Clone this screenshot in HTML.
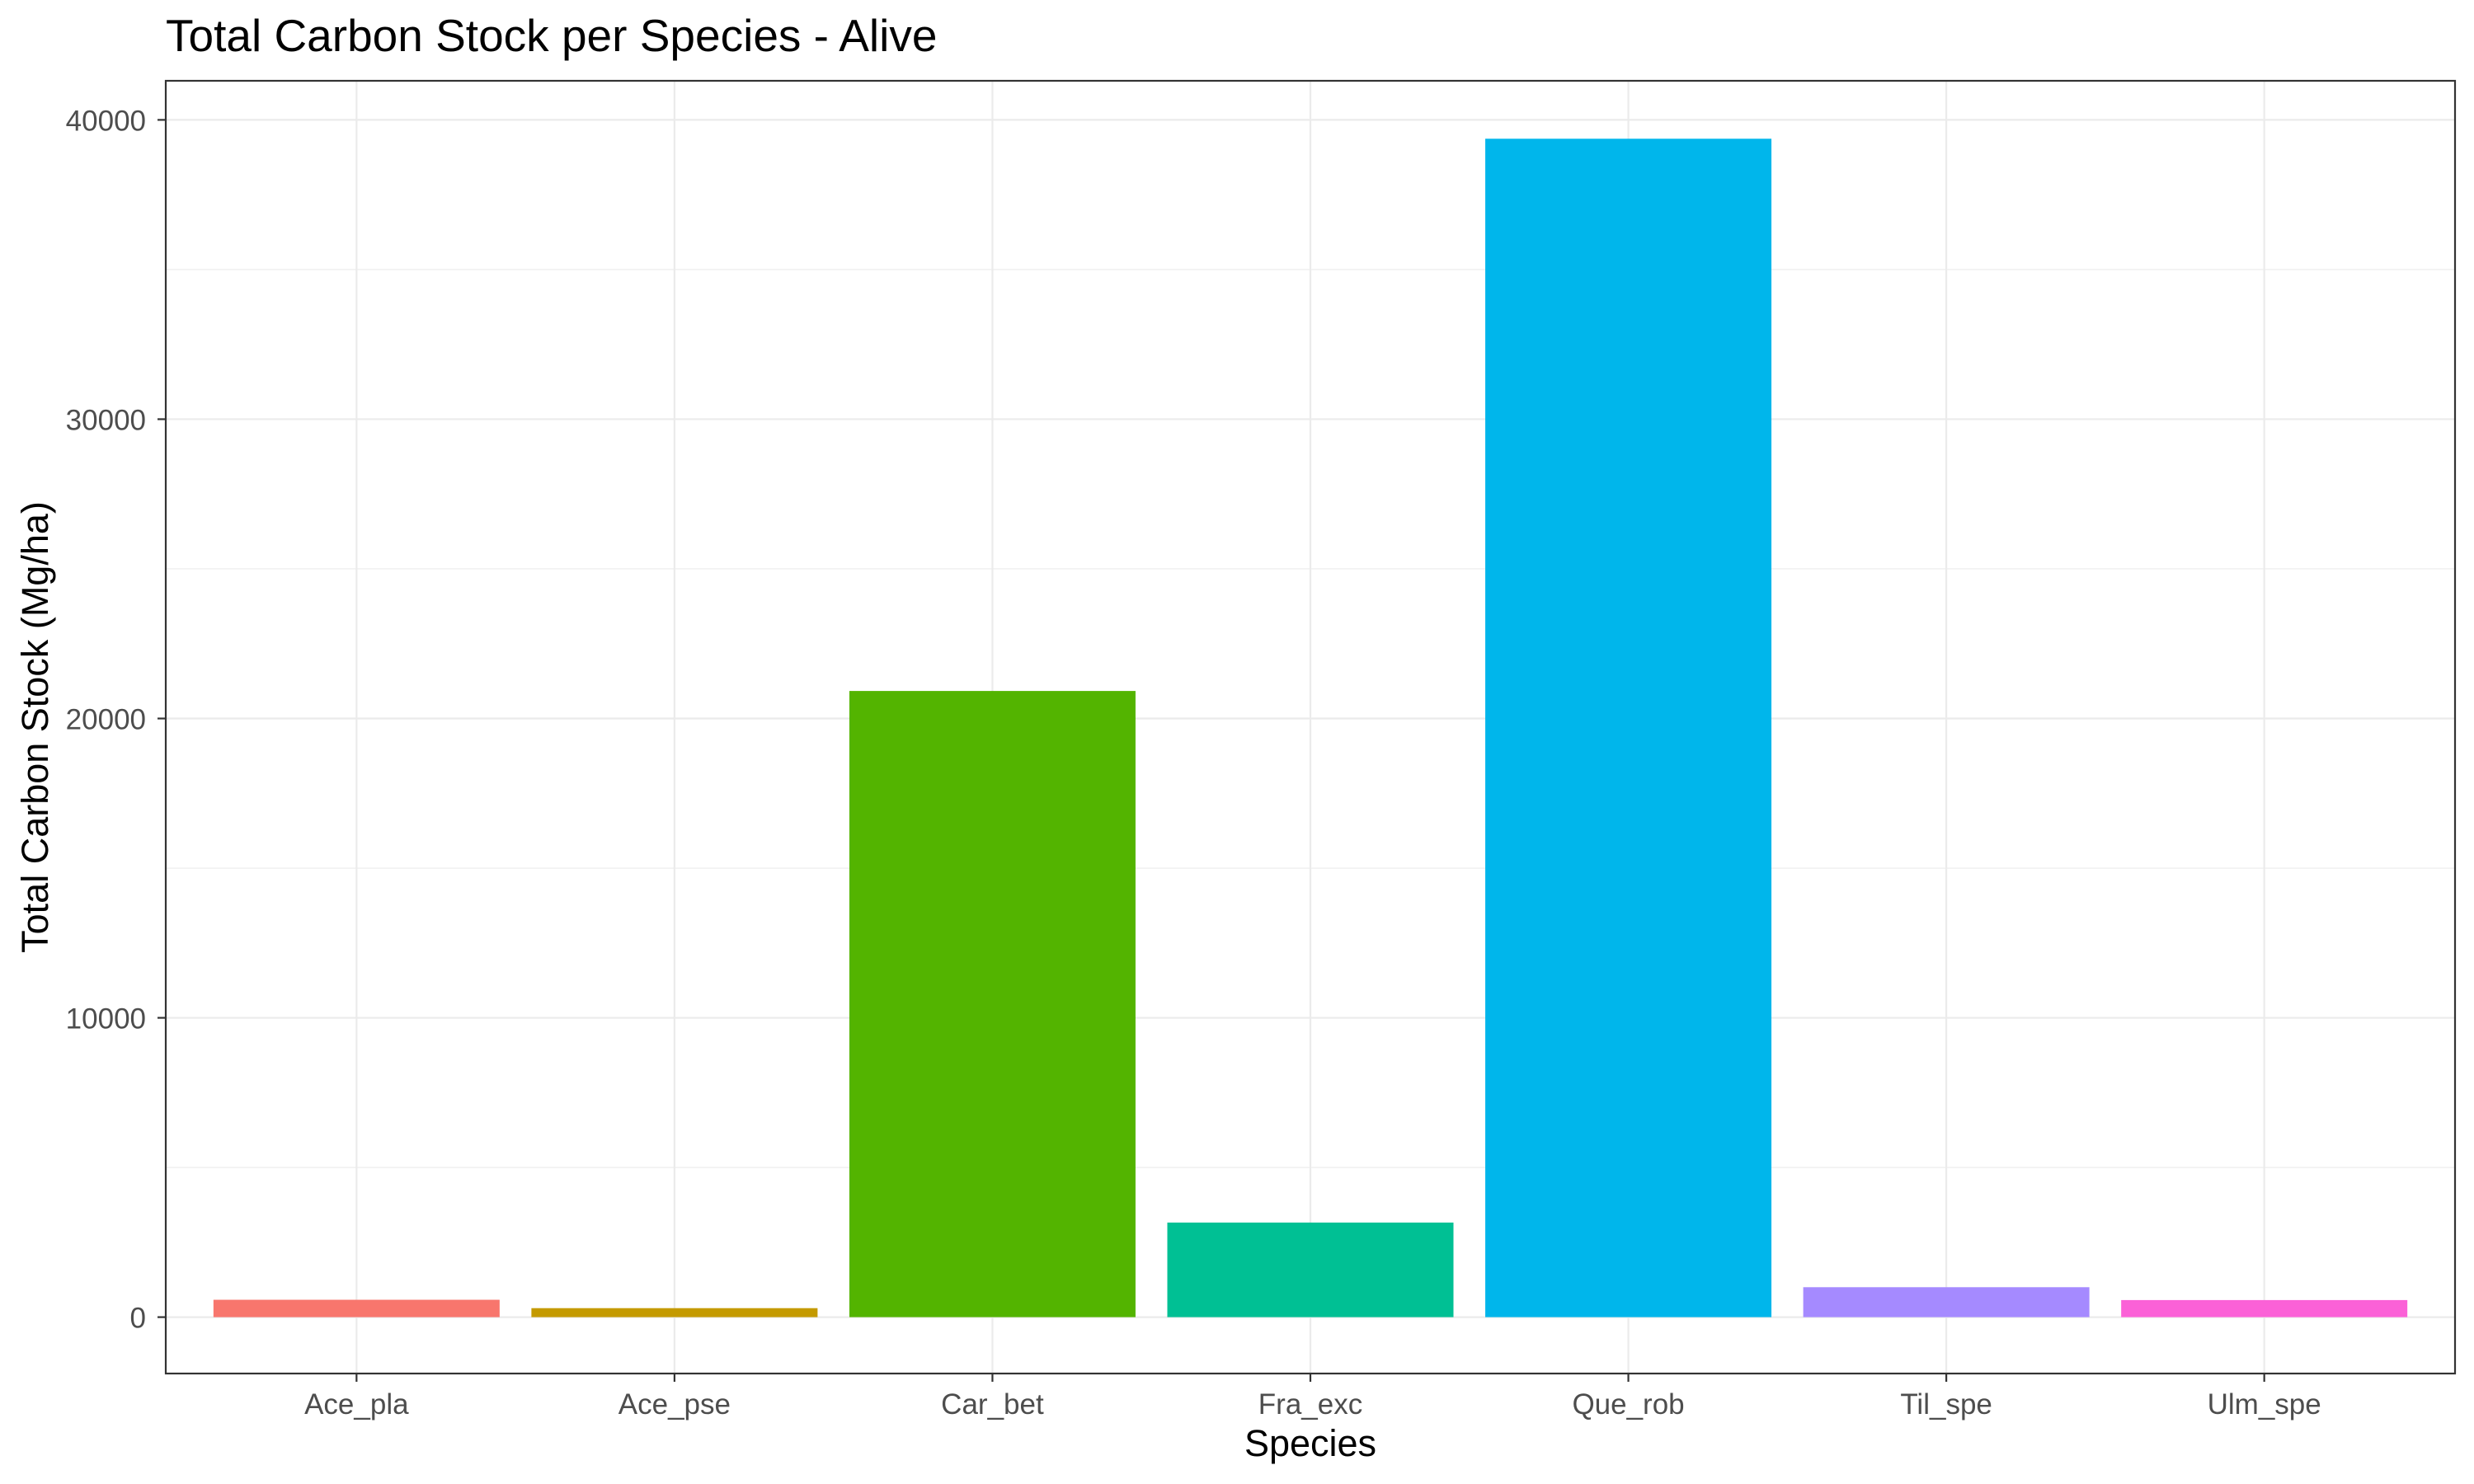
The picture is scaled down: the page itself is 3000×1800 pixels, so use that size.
<!DOCTYPE html>
<html><head><meta charset="utf-8"><style>
html,body{margin:0;padding:0;background:#fff;}
svg{display:block;font-family:"Liberation Sans",Arial,sans-serif;}
</style></head><body>
<svg id="chart" width="3000" height="1800" viewBox="0 0 3000 1800">
<text x="201" y="62" font-size="55" fill="#000">Total Carbon Stock per Species - Alive</text>
<g id="grid"></g>
<g id="bars"></g>
<rect x="201" y="98" width="2776" height="1568" fill="none" stroke="#333" stroke-width="2.2"/>
<g id="axes"></g>
<text x="1589" y="1766" font-size="45" text-anchor="middle" fill="#000">Species</text>
<text transform="translate(58,882) rotate(-90)" font-size="45" text-anchor="middle" fill="#000">Total Carbon Stock (Mg/ha)</text>
</svg>
<script>
const categories = ["Ace_pla","Ace_pse","Car_bet","Fra_exc","Que_rob","Til_spe","Ulm_spe"];
const values = [580, 300, 20920, 3160, 39370, 1000, 570];
const colors = ["#F8766D","#C49A00","#53B400","#00C094","#00B6EB","#A58AFF","#FB61D7"];
const yTicks = [0, 10000, 20000, 30000, 40000];
const yMinor = [5000, 15000, 25000, 35000];
const NS = "http://www.w3.org/2000/svg";
const L = 201, R = 2977, T = 98, B = 1666;
const y0px = 1597.6, y40px = 145.4;
function y(v){ return y0px + (y40px - y0px) * v / 40000; }
const unit = (R - L) / (categories.length - 1 + 1.2);
function x(i){ return L + unit * (0.6 + i); }
function mk(tag, attrs, parent){ const e = document.createElementNS(NS, tag); for (const k in attrs) e.setAttribute(k, attrs[k]); parent.appendChild(e); return e; }
const grid = document.getElementById("grid"), bars = document.getElementById("bars"), axes = document.getElementById("axes");
mk("rect", {x:L, y:T, width:R-L, height:B-T, fill:"#fff"}, grid);
yMinor.forEach(v => {
  const l = mk("line", {x1:L, x2:R, y1:y(v), y2:y(v), stroke:"#EBEBEB", "stroke-width":1.1}, grid);
  
  
});
yTicks.forEach(v => {
  const l = mk("line", {x1:L, x2:R, y1:y(v), y2:y(v), stroke:"#EBEBEB", "stroke-width":2.2}, grid);
  
  
  const t = mk("line", {x1:L-10, x2:L, y1:y(v), y2:y(v), stroke:"#333", "stroke-width":2.2}, axes);
  
  
  const tx = mk("text", {x:L-24, y:y(v)+13, "font-size":35, "text-anchor":"end", fill:"#4D4D4D"}, axes);
  tx.textContent = v;
  
  
});
categories.forEach((c, i) => {
  const cx = x(i);
  const g = mk("line", {x1:cx, x2:cx, y1:T, y2:B, stroke:"#EBEBEB", "stroke-width":2.2}, grid);
  
  
  const w = unit * 0.9;
  const r = mk("rect", {x:cx - w/2, y:y(values[i]), width:w, height:y(0) - y(values[i]), fill:colors[i]}, bars);
  
  
  const t = mk("line", {x1:cx, x2:cx, y1:B, y2:B+10, stroke:"#333", "stroke-width":2.2}, axes);
  
  
  const tx = mk("text", {x:cx, y:B+49, "font-size":35, "text-anchor":"middle", fill:"#4D4D4D"}, axes);
  tx.textContent = c;
  
  
});
</script>
</body></html>
